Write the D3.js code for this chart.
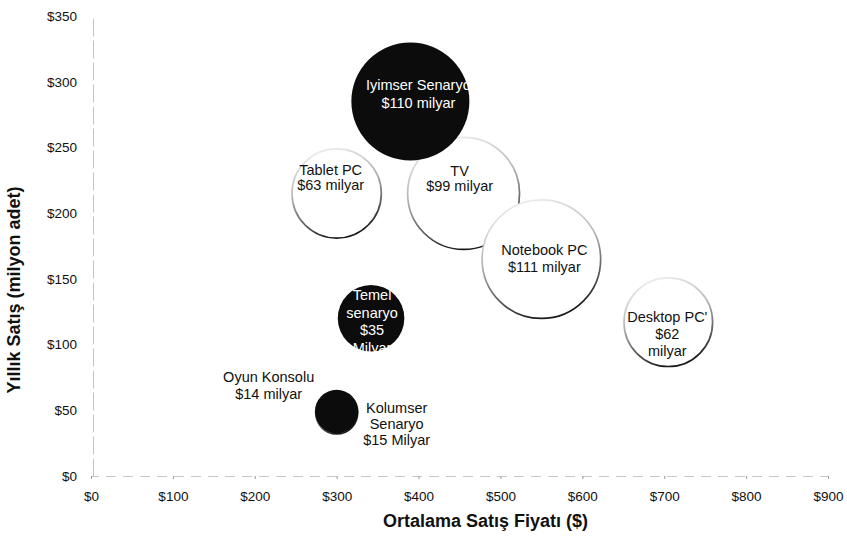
<!DOCTYPE html>
<html>
<head>
<meta charset="utf-8">
<script src="https://cdn.jsdelivr.net/npm/d3@7"></script>
<style>
  body { margin: 0; background: #fff; }
  svg { display: block; font-family: "Liberation Sans", Arial, sans-serif; }
</style>
</head>
<body>
<svg id="chart" width="847" height="536"></svg>
<script>
// bubbles, in drawing order (scenarios last so they sit on top)
var names    = ['Tablet PC', 'TV', 'Notebook PC', 'Desktop PC', 'Oyun Konsolu', 'Iyimser Senaryo', 'Temel senaryo', 'Kolumser Senaryo'];
var prices   = [300, 455, 550, 705, 300, 390, 342, 300];     // avg. price ($)
var units    = [215, 215, 165, 117, 48, 285, 120, 49];       // million units
var revenue  = [63, 99, 111, 62, 14, 110, 35, 15];           // $ billion
var scenario = [false, false, false, false, false, true, true, true];
var labels = [
  ['Tablet PC', '$63 milyar'],
  ['TV', '$99 milyar'],
  ['Notebook PC', '$111 milyar'],
  ["Desktop PC'", '$62', 'milyar'],
  ['Oyun Konsolu', '$14 milyar'],
  ['Iyimser Senaryo', '$110 milyar'],
  ['Temel', 'senaryo', '$35', 'Milyar'],
  ['Kolumser', 'Senaryo', '$15 Milyar']
];
var xTicks = [0, 100, 200, 300, 400, 500, 600, 700, 800, 900];
var yTicks = [0, 50, 100, 150, 200, 250, 300, 350];

var svg = d3.select('#chart');

var x = d3.scaleLinear().domain([0, 900]).range([91, 828]);
var y = d3.scaleLinear().domain([0, 350]).range([476, 16]);
var r = d3.scaleSqrt().domain([0, 110]).range([0, 59]);

// faded rim like the printed bubbles: light on top, dark at the bottom
var grad = svg.append('defs').append('linearGradient')
  .attr('id', 'rim')
  .attr('x1', 0.2).attr('y1', 0).attr('x2', 0.5).attr('y2', 1);
grad.append('stop').attr('offset', '0%').attr('stop-color', '#f2f2f2');
grad.append('stop').attr('offset', '45%').attr('stop-color', '#b5b5b5');
grad.append('stop').attr('offset', '100%').attr('stop-color', '#1a1a1a');

// axes
var xAxis = svg.append('g')
  .attr('transform', 'translate(0,' + y(0) + ')')
  .call(d3.axisBottom(x).tickValues(xTicks).tickSize(3).tickPadding(12)
    .tickFormat(function(d) { return '$' + d; }));
xAxis.select('.domain').attr('stroke', '#c8c8c8').attr('stroke-dasharray', '10,7');
xAxis.selectAll('.tick line').attr('stroke', '#999');
xAxis.selectAll('text').attr('font-size', 13.5).attr('fill', '#111');

var yAxis = svg.append('g')
  .attr('transform', 'translate(' + (x(0) + 2) + ',0)')
  .call(d3.axisLeft(y).tickValues(yTicks).tickSize(0).tickPadding(16)
    .tickFormat(function(d) { return '$' + d; }));
yAxis.select('.domain').attr('stroke', '#c4c4c4').attr('stroke-dasharray', '18,4');
yAxis.selectAll('text').attr('font-size', 13.5).attr('fill', '#111');

svg.append('text')
  .attr('x', x(450) + 26).attr('y', 527)
  .attr('text-anchor', 'middle')
  .attr('font-size', 18).attr('font-weight', 'bold').attr('fill', '#111')
  .text('Ortalama Satış Fiyatı ($)');

svg.append('text')
  .attr('transform', 'translate(20,290) rotate(-90)')
  .attr('text-anchor', 'middle')
  .attr('font-size', 18).attr('font-weight', 'bold').attr('fill', '#111')
  .text('Yıllık Satış (milyon adet)');

// bubbles
var idx = d3.range(names.length);

svg.append('g').selectAll('circle')
  .data(idx)
  .join('circle')
  .attr('cx', function(i) { return x(prices[i]); })
  .attr('cy', function(i) { return y(units[i]); })
  .attr('r', function(i) { return r(revenue[i]); })
  .attr('fill', function(i) { return scenario[i] ? '#0c0c0c' : '#fff'; })
  .attr('stroke', function(i) { return scenario[i] ? 'none' : 'url(#rim)'; })
  .attr('stroke-width', 1.7);

// label offsets from the bubble centre (dx, dy of first line, line step)
var labelPos = [
  [-6, -24, 15],
  [-4, -23, 15],
  [3, -9, 17],
  [-1, -5, 17],
  [-68, -36, 17],
  [8, -17, 18],
  [1, -23, 17.5],
  [60, -4, 16]
];

var lab = svg.append('g').selectAll('text')
  .data(idx)
  .join('text')
  .attr('text-anchor', 'middle')
  .attr('font-size', 14.5)
  .attr('fill', function(i) { return scenario[i] && i !== 7 ? '#fff' : '#111'; })
  .attr('x', function(i) { return x(prices[i]) + labelPos[i][0]; })
  .attr('y', function(i) { return y(units[i]) + labelPos[i][1]; });

lab.each(function(i) {
  var t = d3.select(this);
  labels[i].forEach(function(line, k) {
    t.append('tspan')
      .attr('x', x(prices[i]) + labelPos[i][0])
      .attr('dy', k === 0 ? '0.35em' : labelPos[i][2])
      .text(line);
  });
});
</script>
</body>
</html>
